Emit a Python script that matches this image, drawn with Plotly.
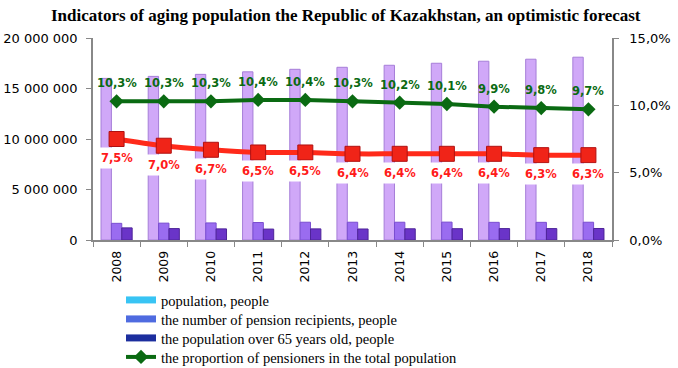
import plotly.graph_objects as go

years = ["2008", "2009", "2010", "2011", "2012", "2013", "2014", "2015", "2016", "2017", "2018"]
population = [16.0e6, 16.2e6, 16.4e6, 16.65e6, 16.9e6, 17.1e6, 17.3e6, 17.5e6, 17.7e6, 17.9e6, 18.1e6]
pension_recipients = [1.65e6, 1.67e6, 1.69e6, 1.73e6, 1.76e6, 1.76e6, 1.76e6, 1.77e6, 1.75e6, 1.75e6, 1.76e6]
over65 = [1.20e6, 1.13e6, 1.10e6, 1.08e6, 1.10e6, 1.09e6, 1.11e6, 1.12e6, 1.13e6, 1.13e6, 1.14e6]
share_pensioners = [10.3, 10.3, 10.3, 10.4, 10.4, 10.3, 10.2, 10.1, 9.9, 9.8, 9.7]
share_over65 = [7.5, 7.0, 6.7, 6.5, 6.5, 6.4, 6.4, 6.4, 6.4, 6.3, 6.3]

legend_names = ["population, people", "the number of pension recipients, people",
                "the population over 65 years old, people"]
green_name = "the proportion of pensioners in the total population"
legend_colors = ["#38C4F4", "#4F6BE0", "#1C2E9E"]
bar_colors = ["#D0A8F8", "#9A6CF0", "#6A34C8"]
bar_lines = ["#A67ED8", "#7A4ED0", "#4E2498"]

def pct(v):
    return f"{v:.1f}%".replace(".", ",")

fig = go.Figure()
for vals, c, lc in zip([population, pension_recipients, over65], bar_colors, bar_lines):
    fig.add_trace(go.Bar(x=years, y=vals, marker=dict(color=c, line=dict(color=lc, width=1)),
                         showlegend=False, yaxis="y"))

# legend-only entries (legend swatches differ in colour from the bars, as in the original)
legend_ids = ["legend", "legend2", "legend3", "legend4"]
for name, c, lid in zip(legend_names, legend_colors, legend_ids):
    fig.add_trace(go.Scatter(x=[years[0]], y=[None], mode="lines", name=name, legend=lid,
                             line=dict(color=c, width=7), yaxis="y"))

fig.add_trace(go.Scatter(x=years, y=share_over65, mode="lines+markers", yaxis="y2",
                         line=dict(color="#FF2A1A", width=5, shape="spline"),
                         marker=dict(symbol="square", size=15, color="#F02418",
                                     line=dict(color="#B01010", width=1)),
                         showlegend=False))
fig.add_trace(go.Scatter(x=years, y=share_pensioners, mode="lines+markers", yaxis="y2",
                         name=green_name, legend="legend4",
                         line=dict(color="#0A6A12", width=4),
                         marker=dict(symbol="diamond", size=11, color="#0A6A12")))

# category index positions for the value labels
for i, v in enumerate(share_pensioners):
    fig.add_annotation(x=i, y=v, xref="x", yref="y2", text="<b>" + pct(v) + "</b>",
                       showarrow=False, yshift=18,
                       font=dict(family="DejaVu Sans", size=11.5, color="#0A6A12"))
for i, v in enumerate(share_over65):
    fig.add_annotation(x=i, y=v, xref="x", yref="y2", text="<b>" + pct(v) + "</b>",
                       showarrow=False, yshift=-19, bgcolor="white", borderpad=3,
                       font=dict(family="DejaVu Sans", size=11.5, color="#FF1A1A"))

# legend rows: one legend per row so the row spacing matches the original
row_centers_px = [300, 319, 338, 357]
legend_font = dict(family="Liberation Serif", size=14.5, color="black")
legends = {}
for lid, yc in zip(legend_ids, row_centers_px):
    legends[lid] = dict(x=0.054, y=(240 - yc) / 202, xanchor="left", yanchor="middle",
                        font=legend_font, itemwidth=30, bgcolor="rgba(0,0,0,0)")
fig.update_layout(**legends)

fig.update_layout(
    width=678, height=368,
    margin=dict(l=93, r=66, t=38, b=128, autoexpand=False),
    paper_bgcolor="white", plot_bgcolor="white",
    separators=", ",
    barmode="group", bargap=0.34, bargroupgap=0,
    title=dict(text="<b>Indicators of aging population the Republic of Kazakhstan, an optimistic forecast</b>",
               x=0.51, xanchor="center", y=0.96, yanchor="middle",
               font=dict(family="Liberation Serif", size=17, color="black")),
    xaxis=dict(type="category", categoryorder="array", categoryarray=years,
               range=[-0.5, len(years) - 0.5],
               tickangle=-90, tickson="boundaries", ticks="outside", ticklen=5,
               tickcolor="#888", showline=True, linecolor="#888", linewidth=1.5,
               ticklabelstandoff=4,
               tickfont=dict(family="DejaVu Sans", size=12.5, color="black"), showgrid=False),
    yaxis=dict(range=[0, 20e6], dtick=5e6, tickformat=",.0f", showgrid=False, zeroline=False,
               showline=True, linecolor="#888", linewidth=1.5, ticks="outside", tickcolor="#888",
               ticklen=5, ticklabelstandoff=6,
               tickfont=dict(family="DejaVu Sans", size=13, color="black")),
    yaxis2=dict(range=[0, 15], dtick=5, tickformat=".1f", ticksuffix="%", overlaying="y", side="right",
                showgrid=False, zeroline=False, showline=True, linecolor="#888", linewidth=1.5,
                ticks="outside", tickcolor="#888", ticklen=5, ticklabelstandoff=8,
                tickfont=dict(family="DejaVu Sans", size=13, color="black")),
)

fig.write_html("out.html", config={"displayModeBar": False},
               post_script="document.body.style.margin='0';")
